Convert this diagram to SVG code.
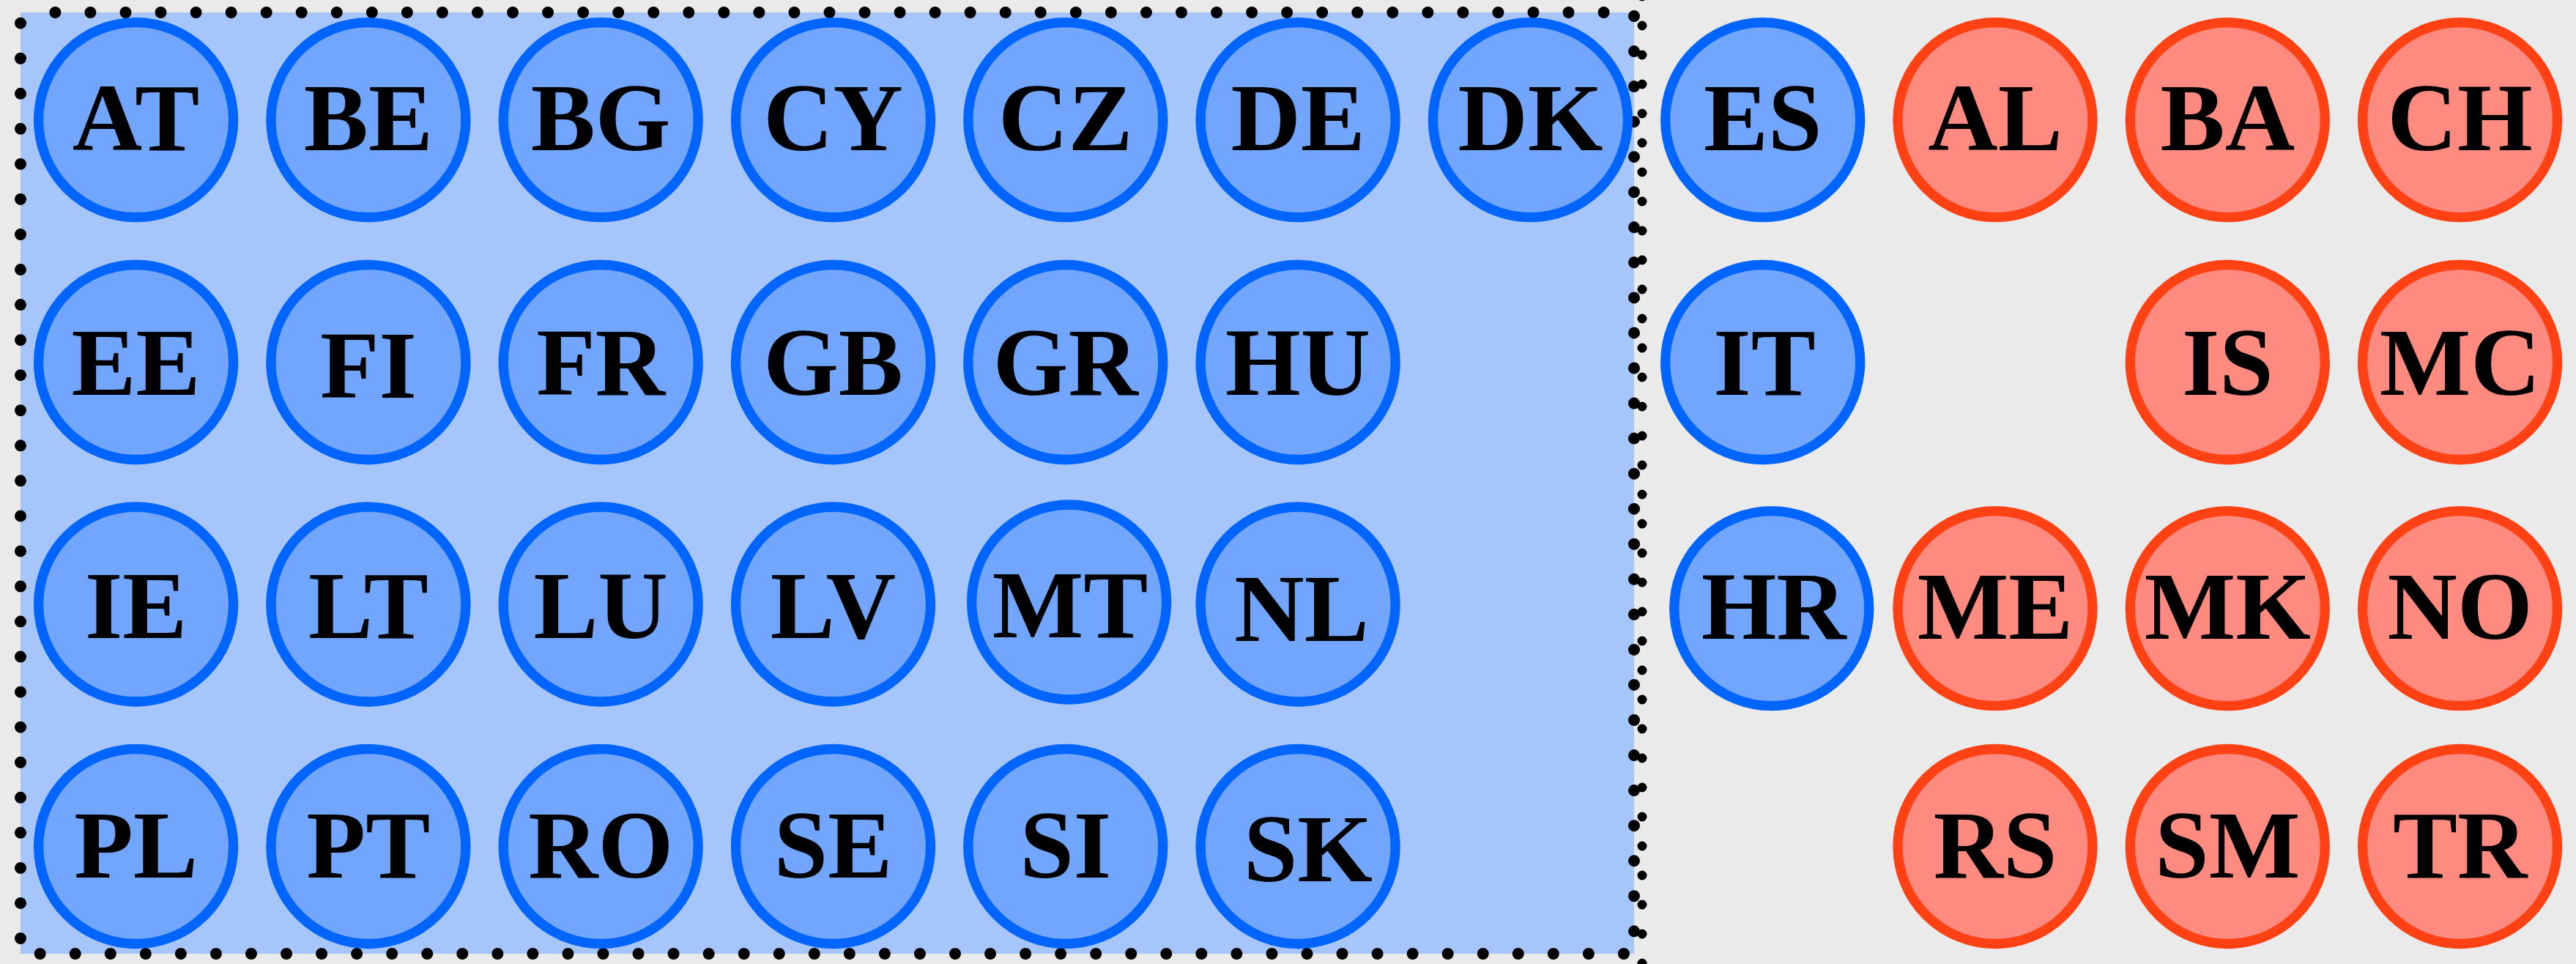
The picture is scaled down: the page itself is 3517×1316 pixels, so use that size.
<svg xmlns="http://www.w3.org/2000/svg" width="3517" height="1316" viewBox="0 0 3517 1316">
  <style>
    .eu circle { fill: #72a6fc; stroke: #0064ff; stroke-width: 13.3; }
    .non circle { fill: #ff8a80; stroke: #ff4114; stroke-width: 13.3; }
    text { font-family: "Liberation Serif", "Times New Roman", serif; font-weight: bold; font-size: 132px; fill: #000; text-anchor: middle; }
    .dots { stroke: #000; stroke-linecap: round; fill: none; }
    .d48 { stroke-width: 16; stroke-dasharray: 0 48.05; }
    .d40 { stroke-width: 13; stroke-dasharray: 0 40; }
  </style>

  <!-- backdrop -->
  <rect x="0" y="0" width="3517" height="1316" fill="#eaeaea"/>

  <!-- cluster box -->
  <g id="cluster">
    <rect x="28" y="17" width="2203" height="1285" fill="#a6c5fb"/>
    <line class="dots d48" x1="28" y1="31.7" x2="28" y2="1295"/>
    <line class="dots d48" x1="75.4" y1="17" x2="2200" y2="17"/>
    <line class="dots d48" x1="54.7" y1="1302" x2="2220" y2="1302"/>
    <line class="dots d48" x1="2231" y1="22" x2="2231" y2="1295"/>
  </g>
  <line id="separator" class="dots d40" x1="2242" y1="-5" x2="2242" y2="1330"/>

  <!-- row 1 -->
  <g id="node-AT" class="eu"><circle cx="185.6" cy="163.7" r="133"/><text x="185.6" y="205">AT</text></g>
  <g id="node-BE" class="eu"><circle cx="502.9" cy="163.7" r="133"/><text x="502.9" y="205">BE</text></g>
  <g id="node-BG" class="eu"><circle cx="820.2" cy="163.7" r="133"/><text x="820.2" y="205">BG</text></g>
  <g id="node-CY" class="eu"><circle cx="1137.5" cy="163.7" r="133"/><text x="1137.5" y="205">CY</text></g>
  <g id="node-CZ" class="eu"><circle cx="1454.8" cy="163.7" r="133"/><text x="1454.8" y="205">CZ</text></g>
  <g id="node-DE" class="eu"><circle cx="1772.1" cy="163.7" r="133"/><text x="1772.1" y="205">DE</text></g>
  <g id="node-DK" class="eu"><circle cx="2089.4" cy="163.7" r="133"/><text x="2089.4" y="205">DK</text></g>
  <g id="node-ES" class="eu"><circle cx="2406.7" cy="163.7" r="133"/><text x="2406.7" y="205">ES</text></g>
  <g id="node-AL" class="non"><circle cx="2724" cy="163.7" r="133"/><text x="2724" y="205">AL</text></g>
  <g id="node-BA" class="non"><circle cx="3041.3" cy="163.7" r="133"/><text x="3041.3" y="205">BA</text></g>
  <g id="node-CH" class="non"><circle cx="3358.6" cy="163.7" r="133"/><text x="3358.6" y="205">CH</text></g>

  <!-- row 2 -->
  <g id="node-EE" class="eu"><circle cx="185.6" cy="494.5" r="133"/><text x="185.6" y="539">EE</text></g>
  <g id="node-FI" class="eu"><circle cx="502.9" cy="494.5" r="133"/><text x="502.9" y="543">FI</text></g>
  <g id="node-FR" class="eu"><circle cx="820.2" cy="494.5" r="133"/><text x="820.2" y="539">FR</text></g>
  <g id="node-GB" class="eu"><circle cx="1137.5" cy="494.5" r="133"/><text x="1137.5" y="539">GB</text></g>
  <g id="node-GR" class="eu"><circle cx="1454.8" cy="494.5" r="133"/><text x="1454.8" y="539">GR</text></g>
  <g id="node-HU" class="eu"><circle cx="1772.1" cy="494.5" r="133"/><text x="1772.1" y="539">HU</text></g>
  <g id="node-IT" class="eu"><circle cx="2406.7" cy="494.5" r="133"/><text x="2409" y="539">IT</text></g>
  <g id="node-IS" class="non"><circle cx="3041.3" cy="494.5" r="133"/><text x="3041.3" y="539">IS</text></g>
  <g id="node-MC" class="non"><circle cx="3358.6" cy="494.5" r="133"/><text x="3358.6" y="539">MC</text></g>

  <!-- row 3 -->
  <g id="node-IE" class="eu"><circle cx="185.6" cy="825" r="133"/><text x="185.6" y="871">IE</text></g>
  <g id="node-LT" class="eu"><circle cx="502.9" cy="825" r="133"/><text x="502.9" y="871">LT</text></g>
  <g id="node-LU" class="eu"><circle cx="820.2" cy="825" r="133"/><text x="820.2" y="871">LU</text></g>
  <g id="node-LV" class="eu"><circle cx="1137.5" cy="825" r="133"/><text x="1137.5" y="871">LV</text></g>
  <g id="node-MT" class="eu"><circle cx="1459.6" cy="822" r="133"/><text x="1461" y="870">MT</text></g>
  <g id="node-NL" class="eu"><circle cx="1772.1" cy="825" r="133"/><text x="1777" y="875">NL</text></g>
  <g id="node-HR" class="eu"><circle cx="2418.8" cy="830.7" r="133"/><text x="2421.7" y="872.3">HR</text></g>
  <g id="node-ME" class="non"><circle cx="2724" cy="830.7" r="133"/><text x="2724" y="872.3">ME</text></g>
  <g id="node-MK" class="non"><circle cx="3041.3" cy="830.7" r="133"/><text x="3041.3" y="872.3">MK</text></g>
  <g id="node-NO" class="non"><circle cx="3358.6" cy="830.7" r="133"/><text x="3358.6" y="872.3">NO</text></g>

  <!-- row 4 -->
  <g id="node-PL" class="eu"><circle cx="185.6" cy="1155.5" r="133"/><text x="185.6" y="1198">PL</text></g>
  <g id="node-PT" class="eu"><circle cx="502.9" cy="1155.5" r="133"/><text x="502.9" y="1198">PT</text></g>
  <g id="node-RO" class="eu"><circle cx="820.2" cy="1155.5" r="133"/><text x="820.2" y="1198">RO</text></g>
  <g id="node-SE" class="eu"><circle cx="1137.5" cy="1155.5" r="133"/><text x="1137.5" y="1198">SE</text></g>
  <g id="node-SI" class="eu"><circle cx="1454.8" cy="1155.5" r="133"/><text x="1454.8" y="1198">SI</text></g>
  <g id="node-SK" class="eu"><circle cx="1772.1" cy="1155.5" r="133"/><text x="1786" y="1203">SK</text></g>
  <g id="node-RS" class="non"><circle cx="2724" cy="1155.5" r="133"/><text x="2724" y="1198">RS</text></g>
  <g id="node-SM" class="non"><circle cx="3041.3" cy="1155.5" r="133"/><text x="3041.3" y="1198">SM</text></g>
  <g id="node-TR" class="non"><circle cx="3358.6" cy="1155.5" r="133"/><text x="3358.6" y="1198">TR</text></g>
</svg>
